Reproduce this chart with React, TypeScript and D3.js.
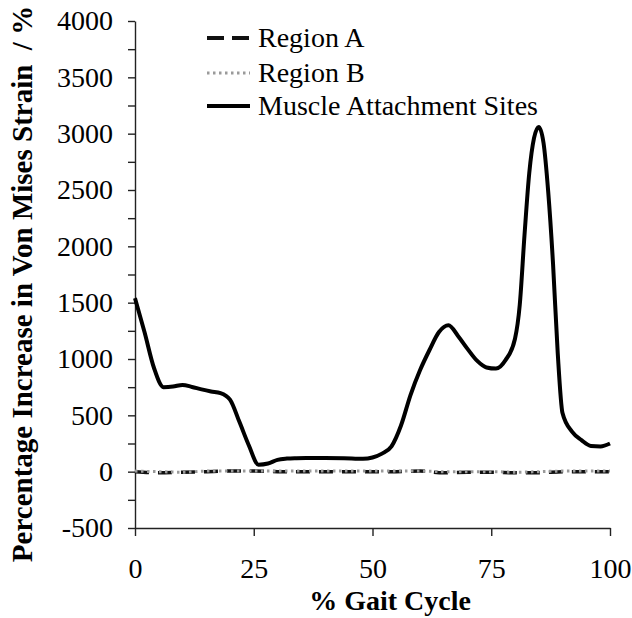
import React, { useEffect, useRef } from "react";
import * as d3 from "d3";

// % gait cycle sample points and values
const gaitPct = [0, 2, 4, 6, 8, 10, 12, 14, 16, 18, 20, 22, 24, 26, 28, 30, 32, 34, 36, 40, 44, 48, 50, 52, 54, 56, 58, 60, 62, 64, 66, 68, 70, 72, 74, 76, 78, 80, 81, 82, 83, 84, 85, 86, 87, 88, 89, 90, 92, 94, 96, 98, 100];
const muscleSites = [1540, 1240, 920, 750, 755, 770, 752, 730, 712, 698, 640, 440, 230, 62, 72, 105, 116, 120, 122, 122, 120, 115, 126, 160, 225, 410, 680, 900, 1080, 1240, 1300, 1205, 1090, 985, 925, 915, 990, 1180, 1480, 2100, 2650, 2960, 3060, 2920, 2480, 1850, 1050, 520, 355, 280, 228, 224, 250];

const regionPct = [0, 5, 10, 15, 20, 25, 30, 35, 40, 45, 50, 55, 60, 65, 70, 75, 80, 85, 90, 95, 100];
const regionA = [0, -10, -5, 0, 5, 5, 0, 0, 0, 0, 0, 0, 5, -10, -5, -5, -10, -10, 0, 0, 0];
const regionB = [5, 0, -5, 5, 5, 5, 5, 5, 5, 5, 5, 5, 5, 0, 0, 0, -5, 0, 5, 5, 5];

const yTicks = [-500, 0, 500, 1000, 1500, 2000, 2500, 3000, 3500, 4000];
const yMinorTicks = [-250, 250, 750, 1250, 1750, 2250, 2750, 3250, 3750];
const xTicks = [0, 25, 50, 75, 100];
const seriesNames = ["Region A", "Region B", "Muscle Attachment Sites"];

const FONT = "'Liberation Serif', 'Times New Roman', serif";

export default function App() {
  const ref = useRef<SVGSVGElement>(null);

  useEffect(() => {
    document.body.style.margin = "0";
    const svg = d3.select(ref.current);
    svg.selectAll("*").remove();

    const x = d3.scaleLinear().domain([0, 100]).range([135, 610]);
    const y = d3.scaleLinear().domain([-500, 4000]).range([528, 21]);

    // y axis, major + minor ticks
    const yAxis = svg
      .append("g")
      .attr("transform", `translate(${x(0)},0)`)
      .call(d3.axisLeft(y).tickValues(yTicks).tickSize(7).tickSizeOuter(0).tickPadding(15).tickFormat((d) => String(d)));
    svg
      .append("g")
      .attr("transform", `translate(${x(0)},0)`)
      .call(d3.axisLeft(y).tickValues(yMinorTicks).tickSize(7).tickSizeOuter(0).tickFormat(() => ""))
      .select(".domain")
      .remove();

    const xAxis = svg
      .append("g")
      .attr("transform", `translate(0,${y(-500)})`)
      .call(d3.axisBottom(x).tickValues(xTicks).tickSize(8).tickSizeOuter(0).tickPadding(22).tickFormat((d) => String(d)));

    [yAxis, xAxis].forEach((g) => {
      g.selectAll("path").attr("stroke", "#222").attr("stroke-width", 1.4);
      g.selectAll("text")
        .attr("font-family", FONT)
        .attr("font-size", 28)
        .attr("fill", "#000");
    });
    svg.selectAll("g line").attr("stroke", "#222").attr("stroke-width", 1.4);

    const line = d3.line<number>().curve(d3.curveMonotoneX);

    // Region A (dashed)
    svg
      .append("path")
      .attr("d", line.x((_, i) => x(regionPct[i])).y((d) => y(d))(regionA))
      .attr("fill", "none")
      .attr("stroke", "#111")
      .attr("stroke-width", 3.5)
      .attr("stroke-dasharray", "14,9");

    // Region B (dotted grey)
    svg
      .append("path")
      .attr("d", line.x((_, i) => x(regionPct[i])).y((d) => y(d))(regionB))
      .attr("fill", "none")
      .attr("stroke", "#9a9a9a")
      .attr("stroke-width", 3)
      .attr("stroke-dasharray", "2.5,3.5");

    // Muscle attachment sites
    svg
      .append("path")
      .attr("d", line.x((_, i) => x(gaitPct[i])).y((d) => y(d))(muscleSites))
      .attr("fill", "none")
      .attr("stroke", "#000")
      .attr("stroke-width", 4)
      .attr("stroke-linejoin", "round");

    // legend
    const legendY = [38, 73, 106];
    const legendStyles = [
      { stroke: "#111", width: 4, dash: "17,8" },
      { stroke: "#9a9a9a", width: 3, dash: "2.5,3.5" },
      { stroke: "#000", width: 4, dash: null },
    ];
    seriesNames.forEach((name, i) => {
      const g = svg.append("g");
      g.append("line")
        .attr("x1", 207)
        .attr("x2", 250)
        .attr("y1", legendY[i])
        .attr("y2", legendY[i])
        .attr("stroke", legendStyles[i].stroke)
        .attr("stroke-width", legendStyles[i].width)
        .attr("stroke-dasharray", legendStyles[i].dash);
      g.append("text")
        .attr("x", 258)
        .attr("y", legendY[i] + 9)
        .attr("font-family", FONT)
        .attr("font-size", 28)
        .text(name);
    });

    // axis titles
    svg
      .append("text")
      .attr("x", 390)
      .attr("y", 610)
      .attr("text-anchor", "middle")
      .attr("font-family", FONT)
      .attr("font-weight", "bold")
      .attr("font-size", 28)
      .text("% Gait Cycle");

    svg
      .append("text")
      .attr("transform", "translate(32,284) rotate(-90)")
      .attr("text-anchor", "middle")
      .attr("font-family", FONT)
      .attr("font-weight", "bold")
      .attr("font-size", 29)
      .text("Percentage Increase in Von Mises Strain\u00a0 / %");
  }, []);

  return <svg ref={ref} width={632} height={618} style={{ display: "block", background: "#fff" }} />;
}
